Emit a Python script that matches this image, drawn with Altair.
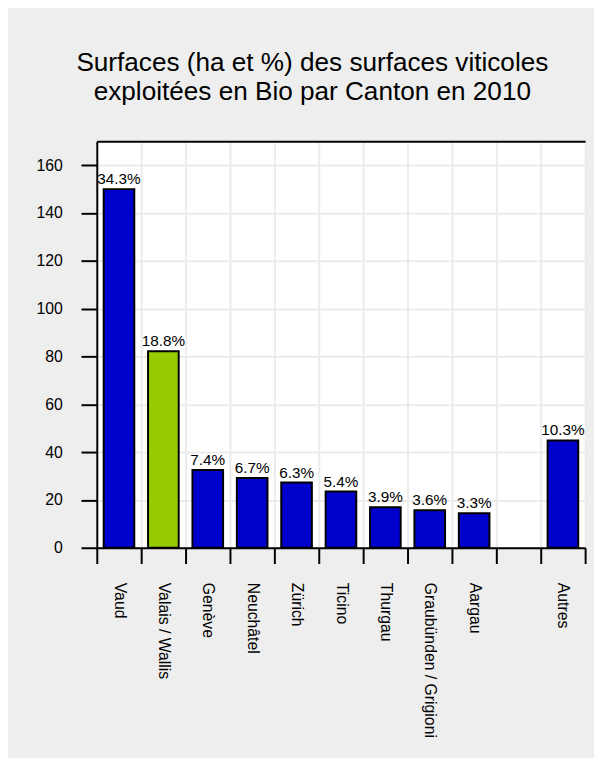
import altair as alt
import pandas as pd

cantons = ["Vaud", "Valais / Wallis", "Genève", "Neuchâtel", "Zürich", "Ticino",
           "Thurgau", "Graubünden / Grigioni", "Aargau", "", "Autres"]
hectares = [150.0, 82.2, 32.5, 29.2, 27.3, 23.5, 16.9, 15.7, 14.4, None, 44.9]
pct_labels = ["34.3%", "18.8%", "7.4%", "6.7%", "6.3%", "5.4%", "3.9%", "3.6%", "3.3%", "", "10.3%"]
y_ticks = [0, 20, 40, 60, 80, 100, 120, 140, 160]
highlight = "Valais / Wallis"

df = pd.DataFrame({"canton": cantons, "ha": hectares, "pct": pct_labels})

FONT = "Liberation Sans"
GRID = "#ebebeb"

x_scale = alt.Scale(domain=cantons, paddingInner=0, paddingOuter=0)
y_scale = alt.Scale(domain=[0, 170], nice=False, zero=True)

x_bottom = alt.X(
    "canton:N", scale=x_scale,
    axis=alt.Axis(orient="bottom", title=None, labelAngle=90, labelPadding=19,
                  tickSize=16, tickWidth=2, tickColor="black", tickBand="extent",
                  grid=True, gridColor=GRID, gridWidth=2,
                  domainColor="black", domainWidth=2,
                  labelFont=FONT, labelFontSize=16, labelColor="black"))

y_axis = alt.Axis(values=y_ticks, title=None, tickSize=16, tickWidth=2, tickColor="black",
                  labelPadding=19, grid=True, gridColor=GRID, gridWidth=2,
                  domainColor="black", domainWidth=2,
                  labelFont=FONT, labelFontSize=16, labelColor="black")

bars = alt.Chart(df).mark_bar(
    width=alt.RelativeBandSize(0.69), stroke="black", strokeWidth=2
).encode(
    x=x_bottom,
    y=alt.Y("ha:Q", scale=y_scale, axis=y_axis),
    color=alt.condition(alt.datum.canton == highlight, alt.value("#99cc00"), alt.value("#0000cc")),
)

text = alt.Chart(df).mark_text(
    baseline="alphabetic", dy=-5, font=FONT, fontSize=15.5, color="black"
).encode(
    x=alt.X("canton:N", scale=x_scale,
            axis=alt.Axis(orient="top", title=None, labels=False, ticks=False, grid=False,
                          domain=True, domainColor="black", domainWidth=2)),
    y=alt.Y("ha:Q", scale=y_scale, axis=y_axis),
    text="pct:N",
)

chart = alt.layer(bars, text).resolve_axis(x="independent", y="shared").properties(
    width=495, height=412,
    title=alt.Title(["Surfaces (ha et %) des surfaces viticoles",
                     "exploitées en Bio par Canton en 2010"],
                    fontSize=26.5, font=FONT, fontWeight="normal", color="black",
                    lineHeight=30, anchor="middle", dx=-29, offset=36),
    background="#eeeeee",
    padding={"left": 90, "top": 130, "right": 9, "bottom": 208},
    autosize=alt.AutoSizeParams(type="none"),
).configure_view(stroke=None, fill="white")

chart.save("out.html", embed_options={"renderer": "svg", "actions": False})
